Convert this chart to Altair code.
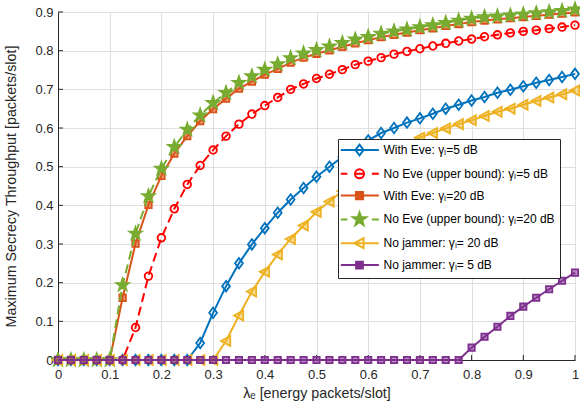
import altair as alt
import pandas as pd

# ---------------- data ----------------
x_vals = [0.0, 0.025, 0.05, 0.075, 0.1, 0.125, 0.15, 0.175, 0.2, 0.225,
          0.25, 0.275, 0.3, 0.325, 0.35, 0.375, 0.4, 0.425, 0.45, 0.475,
          0.5, 0.525, 0.55, 0.575, 0.6, 0.625, 0.65, 0.675, 0.7, 0.725,
          0.75, 0.775, 0.8, 0.825, 0.85, 0.875, 0.9, 0.925, 0.95, 0.975, 1.0]

with_eve_5 = [0, 0, 0, 0, 0, 0, 0, 0, 0, 0,
              0, 0.044, 0.122, 0.191, 0.250, 0.299, 0.341, 0.381, 0.415, 0.445,
              0.474, 0.500, 0.525, 0.548, 0.568, 0.587, 0.600, 0.614, 0.625, 0.637,
              0.650, 0.660, 0.671, 0.680, 0.691, 0.699, 0.708, 0.717, 0.724, 0.732, 0.740]

no_eve_5 = [0, 0, 0, 0, 0, 0, 0.084, 0.217, 0.316, 0.391,
            0.454, 0.503, 0.543, 0.579, 0.610, 0.636, 0.658, 0.679, 0.700, 0.714,
            0.728, 0.739, 0.751, 0.764, 0.773, 0.782, 0.791, 0.798, 0.805, 0.812,
            0.819, 0.825, 0.830, 0.836, 0.841, 0.846, 0.850, 0.853, 0.857, 0.861, 0.866]

with_eve_20 = [0, 0, 0, 0, 0, 0.161, 0.301, 0.401, 0.476, 0.534,
               0.579, 0.618, 0.649, 0.676, 0.702, 0.720, 0.738, 0.753, 0.769, 0.782,
               0.792, 0.801, 0.810, 0.819, 0.827, 0.835, 0.841, 0.847, 0.853, 0.858,
               0.864, 0.869, 0.874, 0.878, 0.881, 0.884, 0.887, 0.890, 0.893, 0.896, 0.899]

no_eve_20 = [0, 0, 0, 0, 0, 0.194, 0.327, 0.424, 0.495, 0.551,
             0.596, 0.633, 0.665, 0.691, 0.717, 0.734, 0.751, 0.765, 0.781, 0.793,
             0.802, 0.811, 0.820, 0.829, 0.836, 0.844, 0.850, 0.855, 0.861, 0.866,
             0.872, 0.878, 0.883, 0.887, 0.889, 0.891, 0.894, 0.897, 0.900, 0.903, 0.907]

no_jammer_20 = [0, 0, 0, 0, 0, 0, 0, 0, 0, 0,
                0, 0, 0, 0.049, 0.115, 0.177, 0.228, 0.273, 0.313, 0.348,
                0.383, 0.410, 0.437, 0.460, 0.483, 0.506, 0.528, 0.552, 0.575, 0.587,
                0.599, 0.610, 0.620, 0.631, 0.642, 0.650, 0.660, 0.670, 0.679, 0.687, 0.697]

no_jammer_5 = [0, 0, 0, 0, 0, 0, 0, 0, 0, 0,
               0, 0, 0, 0, 0, 0, 0, 0, 0, 0,
               0, 0, 0, 0, 0, 0, 0, 0, 0, 0,
               0, 0, 0.032, 0.060, 0.086, 0.114, 0.138, 0.161, 0.183, 0.205, 0.226]

series_names = [
    "With Eve: γₗ=5 dB",
    "No Eve (upper bound): γₗ=5 dB",
    "With Eve: γₗ=20 dB",
    "No Eve (upper bound): γₗ=20 dB",
    "No jammer: γₗ= 20 dB",
    "No jammer: γₗ= 5 dB",
]
series_values = [with_eve_5, no_eve_5, with_eve_20, no_eve_20, no_jammer_20, no_jammer_5]

x_ticks = [0, 0.1, 0.2, 0.3, 0.4, 0.5, 0.6, 0.7, 0.8, 0.9, 1.0]
y_ticks = [0, 0.1, 0.2, 0.3, 0.4, 0.5, 0.6, 0.7, 0.8, 0.9]

# ---------------- styles ----------------
colors = ["#0072BD", "#FF0000", "#D95319", "#77AC30", "#EDB120", "#7E2F8E"]
dashed = [False, True, False, True, False, False]
fill_opac = [0.0, 0.0, 0.55, 1.0, 0.45, 0.55]

star = ("M0,-1L0.235,-0.324L0.951,-0.309L0.380,0.124L0.588,0.809L0,0.4"
        "L-0.588,0.809L-0.380,0.124L-0.951,-0.309L-0.235,-0.324Z")
diamond = "M0,-1L0.75,0L0,1L-0.75,0Z"
circle = "M1,0A1,1,0,1,1,-1,0A1,1,0,1,1,1,0Z"
square = "M-1,-1L1,-1L1,1L-1,1Z"
tri_left = "M-1,0L0.85,-1L0.85,1Z"
marker_paths = [diamond, circle, square, star, tri_left, square]
marker_sizes = [110, 58, 42, 170, 100, 40]

# legend symbols: line sample + marker (1 unit = 4.5 px with symbolSize 81)
solid_seg = "M-4.15,0L4.3,0"
dash_seg = "M-4.15,0L-2.7,0M-1,0L1,0M2.75,0L4.3,0"
leg_markers = [
    "M0,-1.2L0.9,0L0,1.2L-0.9,0Z",
    "M1,0A1,1,0,1,1,-1,0A1,1,0,1,1,1,0Z",
    "M-0.8,-0.8L0.8,-0.8L0.8,0.8L-0.8,0.8Z",
    "M0,-1.55L0.364,-0.502L1.474,-0.479L0.589,0.192L0.911,1.254L0,0.62"
    "L-0.911,1.254L-0.589,0.192L-1.474,-0.479L-0.364,-0.502Z",
    "M-1.15,0L0.9,-1.1L0.9,1.1Z",
    "M-0.75,-0.75L0.75,-0.75L0.75,0.75L-0.75,0.75Z",
]
leg_paths = [(dash_seg if d else solid_seg) + m for d, m in zip(dashed, leg_markers)]
leg_fills = [c if o >= 0.5 else "transparent" for c, o in zip(colors, fill_opac)]

rows = []
for name, vals in zip(series_names, series_values):
    for xv, yv in zip(x_vals, vals):
        rows.append({"x": xv, "y": yv, "series": name})
df = pd.DataFrame(rows)

FONT = "Liberation Sans"
AX = "#262626"

x_scale = alt.Scale(domain=[0, 1], nice=False)
y_scale = alt.Scale(domain=[0, 0.9], nice=False)
x_axis = alt.Axis(values=x_ticks, format="~g", title="λₑ [energy packets/slot]",
                  labelPadding=8, titlePadding=5, labelFlush=False)
y_axis = alt.Axis(values=y_ticks, format="~g",
                  title="Maximum Secrecy Throughput [packets/slot]",
                  labelPadding=5, titlePadding=16, labelFlush=False)

x_enc = alt.X("x:Q", scale=x_scale, axis=x_axis)
y_enc = alt.Y("y:Q", scale=y_scale, axis=y_axis)

legend = alt.Legend(
    title=None,
    orient="none",
    legendX=280,
    legendY=127,
    fillColor="white",
    strokeColor=AX,
    padding=5,
    symbolSize=81,
    symbolStrokeWidth=2,
    symbolOffset=10.5,
    symbolOpacity=1,
    labelOffset=18,
    rowPadding=4.8,
    labelFont=FONT,
    labelFontSize=12,
    labelColor="black",
    labelLimit=400,
)

layers = []
for i, name in enumerate(series_names):
    base = alt.Chart(df).transform_filter(alt.datum.series == name)
    line_kwargs = dict(color=colors[i], strokeWidth=2, clip=False)
    if dashed[i]:
        line_kwargs["strokeDash"] = [9, 5]
    layers.append(base.mark_line(**line_kwargs).encode(x=x_enc, y=y_enc))
    pt_kwargs = dict(shape=marker_paths[i], size=marker_sizes[i], strokeWidth=1.8,
                     opacity=1, clip=False, filled=False, stroke=colors[i])
    if fill_opac[i] > 0:
        pt_kwargs["fill"] = colors[i]
        pt_kwargs["fillOpacity"] = fill_opac[i]
    else:
        pt_kwargs["fill"] = "transparent"
    layers.append(base.mark_point(**pt_kwargs).encode(x=x_enc, y=y_enc))

# legend-only layer (no rows drawn; entries come from the explicit scale domains)
legend_layer = alt.Chart(df).transform_filter("false").mark_point(
    size=81, strokeWidth=2, opacity=1, filled=False
).encode(
    x=x_enc, y=y_enc,
    shape=alt.Shape("series:N", scale=alt.Scale(domain=series_names, range=leg_paths), legend=legend),
    stroke=alt.Stroke("series:N", scale=alt.Scale(domain=series_names, range=colors), legend=legend),
    fill=alt.Fill("series:N", scale=alt.Scale(domain=series_names, range=leg_fills), legend=legend),
)

# inward ticks (MATLAB style)
xt_df = pd.DataFrame({"t": x_ticks})
yt_df = pd.DataFrame({"t": y_ticks})
ticks_x = alt.Chart(xt_df).mark_rule(color=AX, strokeWidth=1).encode(
    x=alt.X("t:Q", scale=x_scale, axis=x_axis),
    y=alt.value(348), y2=alt.value(343))
ticks_y = alt.Chart(yt_df).mark_rule(color=AX, strokeWidth=1).encode(
    y=alt.Y("t:Q", scale=y_scale, axis=y_axis),
    x=alt.value(0), x2=alt.value(5))

chart = alt.layer(ticks_x, ticks_y, *layers, legend_layer).properties(
    width=517,
    height=348,
    autosize=alt.AutoSizeParams(type="none"),
    padding={"left": 58, "top": 12, "right": 5, "bottom": 47},
    background="white",
).configure_view(stroke=None).configure_axis(
    grid=True,
    gridColor="#dfdfdf",
    gridWidth=1,
    domainColor=AX,
    domainWidth=1,
    tickSize=0,
    labelFont=FONT,
    labelFontSize=13,
    labelColor=AX,
    labelOverlap=False,
    titleFont=FONT,
    titleFontSize=14.3,
    titleFontWeight="normal",
    titleColor=AX,
)

chart.save("out.html", embed_options={"renderer": "svg", "actions": False})
